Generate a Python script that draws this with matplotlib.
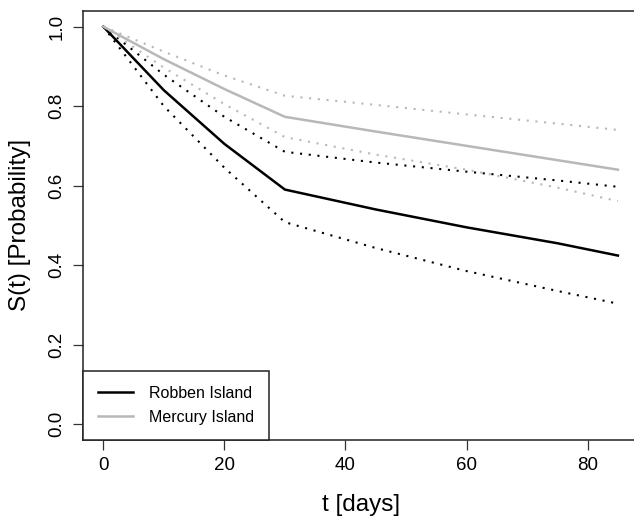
import matplotlib
matplotlib.use("Agg")
import matplotlib.pyplot as plt

plt.rcParams['font.family'] = ['Liberation Sans', 'DejaVu Sans']

# survival estimates (with 95% bounds) read at these time points
days = [0, 10, 20, 30, 45, 60, 75, 85]

robben_s = [1.0, 0.840, 0.705, 0.590, 0.540, 0.495, 0.455, 0.424]
robben_lo = [1.0, 0.800, 0.645, 0.508, 0.443, 0.385, 0.335, 0.303]
robben_hi = [1.0, 0.879, 0.773, 0.685, 0.658, 0.635, 0.613, 0.597]

mercury_s = [1.0, 0.918, 0.843, 0.773, 0.736, 0.700, 0.664, 0.640]
mercury_lo = [1.0, 0.897, 0.805, 0.722, 0.678, 0.640, 0.595, 0.561]
mercury_hi = [1.0, 0.937, 0.877, 0.826, 0.803, 0.779, 0.756, 0.740]

x_ticks = [0, 20, 40, 60, 80]
y_ticks = [0.0, 0.2, 0.4, 0.6, 0.8, 1.0]

BLACK = '#000000'
GREY = '#b8b8b8'
DOTS = (0, (1, 3.2))

fig = plt.figure(figsize=(6.34, 5.19), dpi=100)
ax = fig.add_axes([0.1304, 0.1522, 0.8767, 0.8272])

ax.plot(days, robben_lo, color=BLACK, lw=1.5, ls=DOTS)
ax.plot(days, robben_hi, color=BLACK, lw=1.5, ls=DOTS)
ax.plot(days, mercury_lo, color=GREY, lw=1.5, ls=DOTS)
ax.plot(days, mercury_hi, color=GREY, lw=1.5, ls=DOTS)
ax.plot(days, robben_s, color=BLACK, lw=1.8, label='Robben Island')
ax.plot(days, mercury_s, color=GREY, lw=1.8, label='Mercury Island')

# R-style 4% padding around the data range
ax.set_xlim(-3.4, 88.4)
ax.set_ylim(-0.04, 1.04)

ax.set_xticks(x_ticks)
ax.set_xticklabels([str(v) for v in x_ticks])
ax.set_yticks(y_ticks)
ax.set_yticklabels(['%.1f' % v for v in y_ticks], rotation=90, va='center')
ax.tick_params(axis='both', length=7.2, width=0.9, color='#333333',
               labelsize=13.5, pad=5)

for sp in ax.spines.values():
    sp.set_linewidth(1.1)
    sp.set_color('#222222')

ax.set_xlabel('t [days]', fontsize=17.5)
ax.xaxis.label.set_va('center')
ax.xaxis.set_label_coords(0.5, -0.151)
ax.set_ylabel('S(t) [Probability]', fontsize=17.5)
ax.yaxis.label.set_va('center')
ax.yaxis.set_label_coords(-0.1128, 0.5)

leg = ax.legend(loc='lower left', frameon=True, fancybox=False, edgecolor='#222222',
                framealpha=1, borderaxespad=0, fontsize=11.5, handlelength=2.2,
                handletextpad=1.0, borderpad=0.95, labelspacing=0.55)
leg.get_frame().set_linewidth(1.1)

fig.savefig('out.png', dpi=100)
